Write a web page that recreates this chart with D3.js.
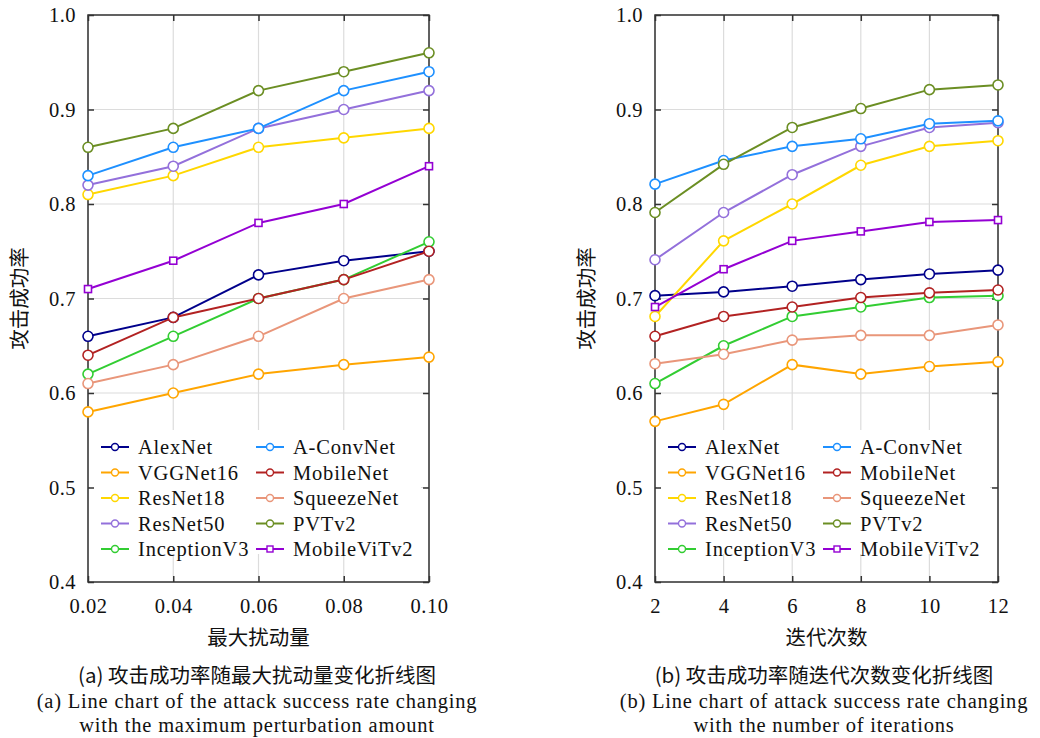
<!DOCTYPE html>
<html><head><meta charset="utf-8">
<script src="https://cdn.jsdelivr.net/npm/d3@7"></script>
<style>
body{margin:0;background:#fff;}
text{font-family:"Liberation Serif","DejaVu Serif",serif;fill:#111;}
.lat{letter-spacing:0.8px;}
.cjk{font-family:"Noto Sans CJK SC","Noto Sans CJK JP",sans-serif;}
</style></head>
<body><svg id="c" width="1040" height="738"></svg>
<script>
// ---- data ----
const models = ["AlexNet","VGGNet16","ResNet18","ResNet50","InceptionV3","A-ConvNet","MobileNet","SqueezeNet","PVTv2","MobileViTv2"];
const perturbX = [0.02,0.04,0.06,0.08,0.10];
const perturbRates = [
  [0.66,0.68,0.725,0.74,0.75],   // AlexNet
  [0.58,0.60,0.62,0.63,0.638],   // VGGNet16
  [0.81,0.83,0.86,0.87,0.88],    // ResNet18
  [0.82,0.84,0.88,0.90,0.92],    // ResNet50
  [0.62,0.66,0.70,0.72,0.76],    // InceptionV3
  [0.83,0.86,0.88,0.92,0.94],    // A-ConvNet
  [0.64,0.68,0.70,0.72,0.75],    // MobileNet
  [0.61,0.63,0.66,0.70,0.72],    // SqueezeNet
  [0.86,0.88,0.92,0.94,0.96],    // PVTv2
  [0.71,0.74,0.78,0.80,0.84]     // MobileViTv2
];
const iterX = [2,4,6,8,10,12];
const iterRates = [
  [0.703,0.707,0.713,0.720,0.726,0.730],
  [0.570,0.588,0.630,0.620,0.628,0.633],
  [0.681,0.761,0.800,0.841,0.861,0.867],
  [0.741,0.791,0.831,0.861,0.881,0.886],
  [0.610,0.650,0.681,0.691,0.701,0.703],
  [0.821,0.846,0.861,0.869,0.885,0.888],
  [0.660,0.681,0.691,0.701,0.706,0.709],
  [0.631,0.641,0.656,0.661,0.661,0.672],
  [0.791,0.842,0.881,0.901,0.921,0.926],
  [0.691,0.731,0.761,0.771,0.781,0.783]
];
const yTicks = [0.4,0.5,0.6,0.7,0.8,0.9,1.0];
const perturbTickLabels = ["0.02","0.04","0.06","0.08","0.10"];
const iterTickLabels = ["2","4","6","8","10","12"];
const yLabel = "攻击成功率";
const xTitles = ["最大扰动量","迭代次数"];
const captionsA = ["(a) 攻击成功率随最大扰动量变化折线图","(a) Line chart of the attack success rate changing","with the maximum perturbation amount"];
const captionsB = ["(b) 攻击成功率随迭代次数变化折线图","(b) Line chart of attack success rate changing","with the number of iterations"];

// ---- styles ----
const colors = ["#00008B","#FFA500","#FFD700","#9370DB","#32CD32","#1E90FF","#B22222","#E9967A","#6B8E23","#9400D3"];
const markerShape = i => models[i]==="MobileViTv2" ? "square" : "circle";
const FS = "20.5px";

const svg = d3.select("#c");

function panel(o){
  const g = svg.append("g");
  const x = d3.scaleLinear().domain(d3.extent(o.xs)).range([o.left,o.right]);
  const y = d3.scaleLinear().domain([0.4,1.0]).range([o.bottom,o.top]);
  // grid
  g.selectAll(".vg").data(o.xs).join("line")
    .attr("x1",d=>x(d)).attr("x2",d=>x(d)).attr("y1",o.top).attr("y2",o.bottom)
    .attr("stroke","#dcdcdc").attr("stroke-width",1.2);
  g.selectAll(".hg").data(yTicks).join("line")
    .attr("x1",o.left).attr("x2",o.right).attr("y1",d=>y(d)).attr("y2",d=>y(d))
    .attr("stroke","#dcdcdc").attr("stroke-width",1.2);
  // legend background
  const ly = 430;
  g.append("rect").attr("x",o.left+2).attr("y",ly).attr("width",o.right-o.left-10).attr("height",124).attr("fill","#fff");
  // axes (ticks inward)
  const axL = d3.axisLeft(y).tickValues(yTicks).tickSize(-6).tickPadding(12).tickFormat(d3.format(".1f"));
  const axR = d3.axisRight(y).tickValues(yTicks).tickSize(-6).tickFormat("");
  const axB = d3.axisBottom(x).tickValues(o.xs).tickSize(-6).tickPadding(16).tickFormat((d,i)=>o.xLabels[i]);
  const axT = d3.axisTop(x).tickValues(o.xs).tickSize(-6).tickFormat("");
  [[axL,`translate(${o.left},0)`],[axR,`translate(${o.right},0)`],[axB,`translate(0,${o.bottom})`],[axT,`translate(0,${o.top})`]].forEach(([ax,t])=>{
    const a = g.append("g").attr("transform",t).call(ax);
    a.select(".domain").remove();
    a.selectAll(".tick line").attr("stroke","#333").attr("stroke-width",1.5);
    a.selectAll("text").style("font-family","'Liberation Serif',serif").style("font-size",FS).style("letter-spacing","0.5px").attr("fill","#111");
  });
  g.append("rect").attr("x",o.left).attr("y",o.top).attr("width",o.right-o.left).attr("height",o.bottom-o.top)
    .attr("fill","none").attr("stroke","#333").attr("stroke-width",1.5);
  // lines
  const line = d3.line().x((d,i)=>x(o.xs[i])).y(d=>y(d));
  o.rates.forEach((r,k)=>{
    const s = g.append("g");
    s.append("path").attr("d",line(r)).attr("fill","none").attr("stroke",colors[k]).attr("stroke-width",2);
    s.selectAll(".m").data(r).join(markerShape(k)==="square"?"rect":"circle")
      .each(function(d,i){
        const e = d3.select(this);
        if(markerShape(k)==="square") e.attr("x",x(o.xs[i])-3.5).attr("y",y(d)-3.5).attr("width",7).attr("height",7);
        else e.attr("cx",x(o.xs[i])).attr("cy",y(d)).attr("r",5);
      })
      .attr("fill","#fff").attr("stroke",colors[k]).attr("stroke-width",1.6);
  });
  // legend
  models.forEach((m,k)=>{
    const col = k<5?0:1, row = k%5;
    const x0 = o.left + 13 + col*155, yy = 447 + row*25.5;
    g.append("line").attr("x1",x0).attr("x2",x0+28).attr("y1",yy).attr("y2",yy).attr("stroke",colors[k]).attr("stroke-width",2);
    if(markerShape(k)==="square") g.append("rect").attr("x",x0+14-3).attr("y",yy-3).attr("width",6).attr("height",6).attr("fill","#fff").attr("stroke",colors[k]).attr("stroke-width",1.4);
    else g.append("circle").attr("cx",x0+14).attr("cy",yy).attr("r",3.5).attr("fill","#fff").attr("stroke",colors[k]).attr("stroke-width",1.4);
    g.append("text").attr("class","lat").attr("x",x0+37).attr("y",yy).attr("dy","0.35em").style("font-size",FS).text(m);
  });
  // labels
  const cx = (o.left+o.right)/2;
  g.append("text").attr("class","cjk").attr("transform",`translate(${o.left-68},${(o.top+o.bottom)/2}) rotate(-90)`)
    .attr("text-anchor","middle").attr("dy","0.35em").style("font-size",FS).text(yLabel);
  g.append("text").attr("class","cjk").attr("x",cx).attr("y",638).attr("text-anchor","middle").attr("dy","0.35em").style("font-size",FS).text(o.xTitle);
  o.caps.forEach((c,i)=>{
    g.append("text").attr("class", i===0?"cjk":"lat").attr("x",o.capX).attr("y",676+i*24.5).attr("text-anchor","middle").attr("dy","0.35em")
      .style("font-size",FS).text(c);
  });
}

panel({xs:perturbX, rates:perturbRates, xLabels:perturbTickLabels, left:88, right:429, top:15, bottom:582, xTitle:xTitles[0], caps:captionsA, capX:257});
panel({xs:iterX, rates:iterRates, xLabels:iterTickLabels, left:655, right:998, top:15, bottom:582, xTitle:xTitles[1], caps:captionsB, capX:824});
</script></body></html>
